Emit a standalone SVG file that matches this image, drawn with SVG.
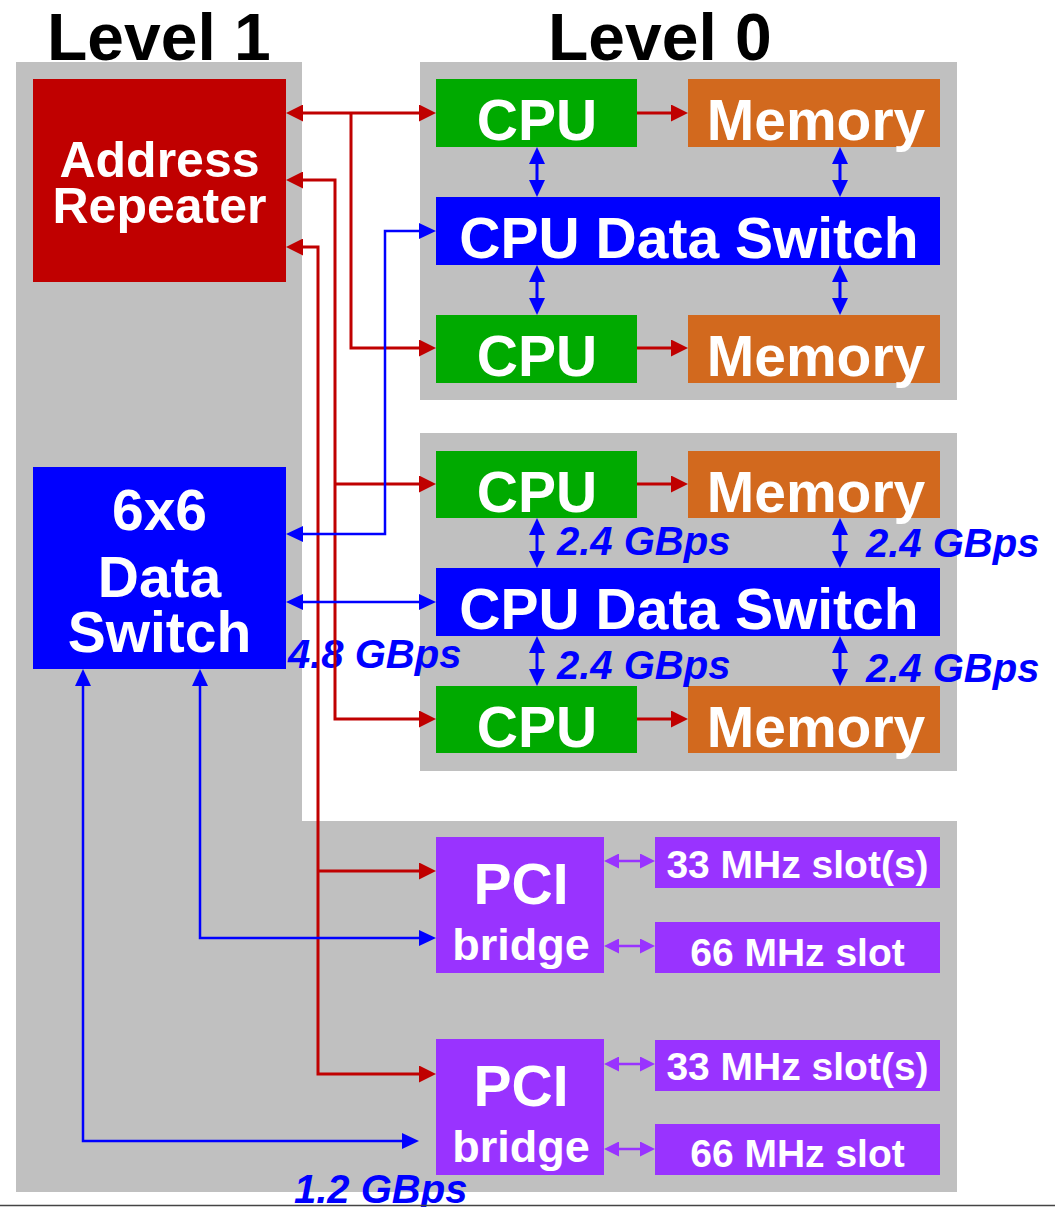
<svg xmlns="http://www.w3.org/2000/svg" width="1055" height="1207" viewBox="0 0 1055 1207">
<style>
text{font-family:"Liberation Sans",Arial,sans-serif;font-weight:bold}
.w{fill:#fff;text-anchor:middle}
.t{fill:#000}
.lbl{fill:#0000FF;font-style:italic;font-size:40px}
.panel{fill:#C0C0C0}
.cpu{fill:#00AA00}
.mem{fill:#D2691E}
.sw{fill:#0000FF}
.pci{fill:#9933FF}
.r{fill:none;stroke:#C00000;stroke-width:3}
.b{fill:none;stroke:#0000FF;stroke-width:2.5}
.bv{fill:none;stroke:#0000FF;stroke-width:3}
.p{fill:none;stroke:#9933FF;stroke-width:2.5}
</style>
<defs>
<marker id="arR" viewBox="0 0 17 17" refX="1" refY="8.5" markerWidth="17" markerHeight="17" markerUnits="userSpaceOnUse" orient="auto-start-reverse"><path d="M0,0 L17,8.5 L0,17 z" fill="#C00000"/></marker>
<marker id="arB" viewBox="0 0 17 16" refX="1" refY="8" markerWidth="17" markerHeight="16" markerUnits="userSpaceOnUse" orient="auto-start-reverse"><path d="M0,0 L17,8 L0,16 z" fill="#0000FF"/></marker>
<marker id="arP" viewBox="0 0 15 15" refX="1" refY="7.5" markerWidth="15" markerHeight="15" markerUnits="userSpaceOnUse" orient="auto-start-reverse"><path d="M0,0 L15,7.5 L0,15 z" fill="#9933FF"/></marker>
</defs>
<rect width="1055" height="1207" fill="#fff"/>
<g id="backgrounds">
<path class="panel" d="M16,62 H302 V821 H957 V1192 H16 Z"/>
<rect class="panel" x="420" y="62" width="537" height="338"/>
<rect class="panel" x="420" y="433" width="537" height="338"/>
</g>
<g id="titles">
<text class="t" x="47" y="60" font-size="66">Level 1</text>
<text class="t" x="548" y="60" font-size="66">Level 0</text>
</g>
<g id="address-repeater"><rect x="33" y="79" width="253" height="203" fill="#C00000"/>
<text class="w" font-size="50"><tspan x="159.5" y="177">Address</tspan><tspan x="159.5" y="223">Repeater</tspan></text></g>
<g id="data-switch-6x6"><rect class="sw" x="33" y="467" width="253" height="202"/>
<text class="w" font-size="57"><tspan x="159.5" y="530">6x6</tspan><tspan x="159.5" y="597">Data</tspan><tspan x="159.5" y="652">Switch</tspan></text></g>
<g id="cpu1"><rect class="cpu" x="436" y="79" width="201" height="68"/><text class="w" x="537" y="140" font-size="57">CPU</text></g>
<g id="mem1"><rect class="mem" x="688" y="79" width="252" height="68"/><text class="w" x="816" y="140" font-size="57">Memory</text></g>
<g id="cds1"><rect class="sw" x="436" y="197" width="504" height="68"/><text class="w" x="689" y="258" font-size="57">CPU Data Switch</text></g>
<g id="cpu2"><rect class="cpu" x="436" y="315" width="201" height="68"/><text class="w" x="537" y="376" font-size="57">CPU</text></g>
<g id="mem2"><rect class="mem" x="688" y="315" width="252" height="68"/><text class="w" x="816" y="376" font-size="57">Memory</text></g>
<g id="cpu3"><rect class="cpu" x="436" y="451" width="201" height="67"/><text class="w" x="537" y="512" font-size="57">CPU</text></g>
<g id="mem3"><rect class="mem" x="688" y="451" width="252" height="67"/><text class="w" x="816" y="512" font-size="57">Memory</text></g>
<g id="cds2"><rect class="sw" x="436" y="568" width="504" height="68"/><text class="w" x="689" y="629" font-size="57">CPU Data Switch</text></g>
<g id="cpu4"><rect class="cpu" x="436" y="686" width="201" height="67"/><text class="w" x="537" y="747" font-size="57">CPU</text></g>
<g id="mem4"><rect class="mem" x="688" y="686" width="252" height="67"/><text class="w" x="816" y="747" font-size="57">Memory</text></g>
<g id="pci1"><rect class="pci" x="436" y="837" width="168" height="136"/>
<text class="w" x="521" y="904" font-size="57">PCI</text><text class="w" x="521" y="960" font-size="45">bridge</text></g>
<g id="slot1"><rect class="pci" x="655" y="837" width="285" height="51"/><text class="w" x="797.5" y="878" font-size="39">33 MHz slot(s)</text></g>
<g id="slot2"><rect class="pci" x="655" y="922" width="285" height="51"/><text class="w" x="797.5" y="966" font-size="39">66 MHz slot</text></g>
<g id="pci2"><rect class="pci" x="436" y="1039" width="168" height="136"/>
<text class="w" x="521" y="1106" font-size="57">PCI</text><text class="w" x="521" y="1162" font-size="45">bridge</text></g>
<g id="slot3"><rect class="pci" x="655" y="1040" width="285" height="51"/><text class="w" x="797.5" y="1080" font-size="39">33 MHz slot(s)</text></g>
<g id="slot4"><rect class="pci" x="655" y="1124" width="285" height="51"/><text class="w" x="797.5" y="1167" font-size="39">66 MHz slot</text></g>
<g id="labels">
<text class="lbl" x="557" y="555">2.4 GBps</text>
<text class="lbl" x="866" y="557">2.4 GBps</text>
<text class="lbl" x="557" y="679">2.4 GBps</text>
<text class="lbl" x="866" y="682">2.4 GBps</text>
<text class="lbl" x="288" y="668">4.8 GBps</text>
<text class="lbl" x="294" y="1203">1.2 GBps</text>
</g>
<g id="connectors">
<path class="r" stroke-width="4" d="M302,113 H420" marker-start="url(#arR)" marker-end="url(#arR)"/>
<path class="r" stroke-width="4" d="M351,113 V348 H420" marker-end="url(#arR)"/>
<path class="r" d="M302,180 H335 V719 H420" marker-start="url(#arR)" marker-end="url(#arR)"/>
<path class="r" d="M335,484 H420" marker-end="url(#arR)"/>
<path class="r" d="M302,247 H318 V1074 H420" marker-start="url(#arR)" marker-end="url(#arR)"/>
<path class="r" d="M318,871 H420" marker-end="url(#arR)"/>
<path class="r" d="M637,113 H672" marker-end="url(#arR)"/>
<path class="r" d="M637,348 H672" marker-end="url(#arR)"/>
<path class="r" d="M637,484 H672" marker-end="url(#arR)"/>
<path class="r" d="M637,719 H672" marker-end="url(#arR)"/>
<path class="b" d="M302,534 H385 V231 H420" marker-start="url(#arB)" marker-end="url(#arB)"/>
<path class="b" d="M302,602 H420" marker-start="url(#arB)" marker-end="url(#arB)"/>
<path class="b" d="M200,685 V938 H420" marker-start="url(#arB)" marker-end="url(#arB)"/>
<path class="b" d="M83,685 V1141 H403" marker-start="url(#arB)" marker-end="url(#arB)"/>
<path class="bv" d="M537,163 V181" marker-start="url(#arB)" marker-end="url(#arB)"/>
<path class="bv" d="M840,163 V181" marker-start="url(#arB)" marker-end="url(#arB)"/>
<path class="bv" d="M537,281 V299" marker-start="url(#arB)" marker-end="url(#arB)"/>
<path class="bv" d="M840,281 V299" marker-start="url(#arB)" marker-end="url(#arB)"/>
<path class="bv" d="M537,534 V552" marker-start="url(#arB)" marker-end="url(#arB)"/>
<path class="bv" d="M840,534 V552" marker-start="url(#arB)" marker-end="url(#arB)"/>
<path class="bv" d="M537,652 V670" marker-start="url(#arB)" marker-end="url(#arB)"/>
<path class="bv" d="M840,652 V670" marker-start="url(#arB)" marker-end="url(#arB)"/>
<path class="p" d="M618,861 H641" marker-start="url(#arP)" marker-end="url(#arP)"/>
<path class="p" d="M618,946 H641" marker-start="url(#arP)" marker-end="url(#arP)"/>
<path class="p" d="M618,1064 H641" marker-start="url(#arP)" marker-end="url(#arP)"/>
<path class="p" d="M618,1149 H641" marker-start="url(#arP)" marker-end="url(#arP)"/>
</g>
<line x1="0" y1="1205.5" x2="1055" y2="1205.5" stroke="#444" stroke-width="1.5"/>
</svg>
